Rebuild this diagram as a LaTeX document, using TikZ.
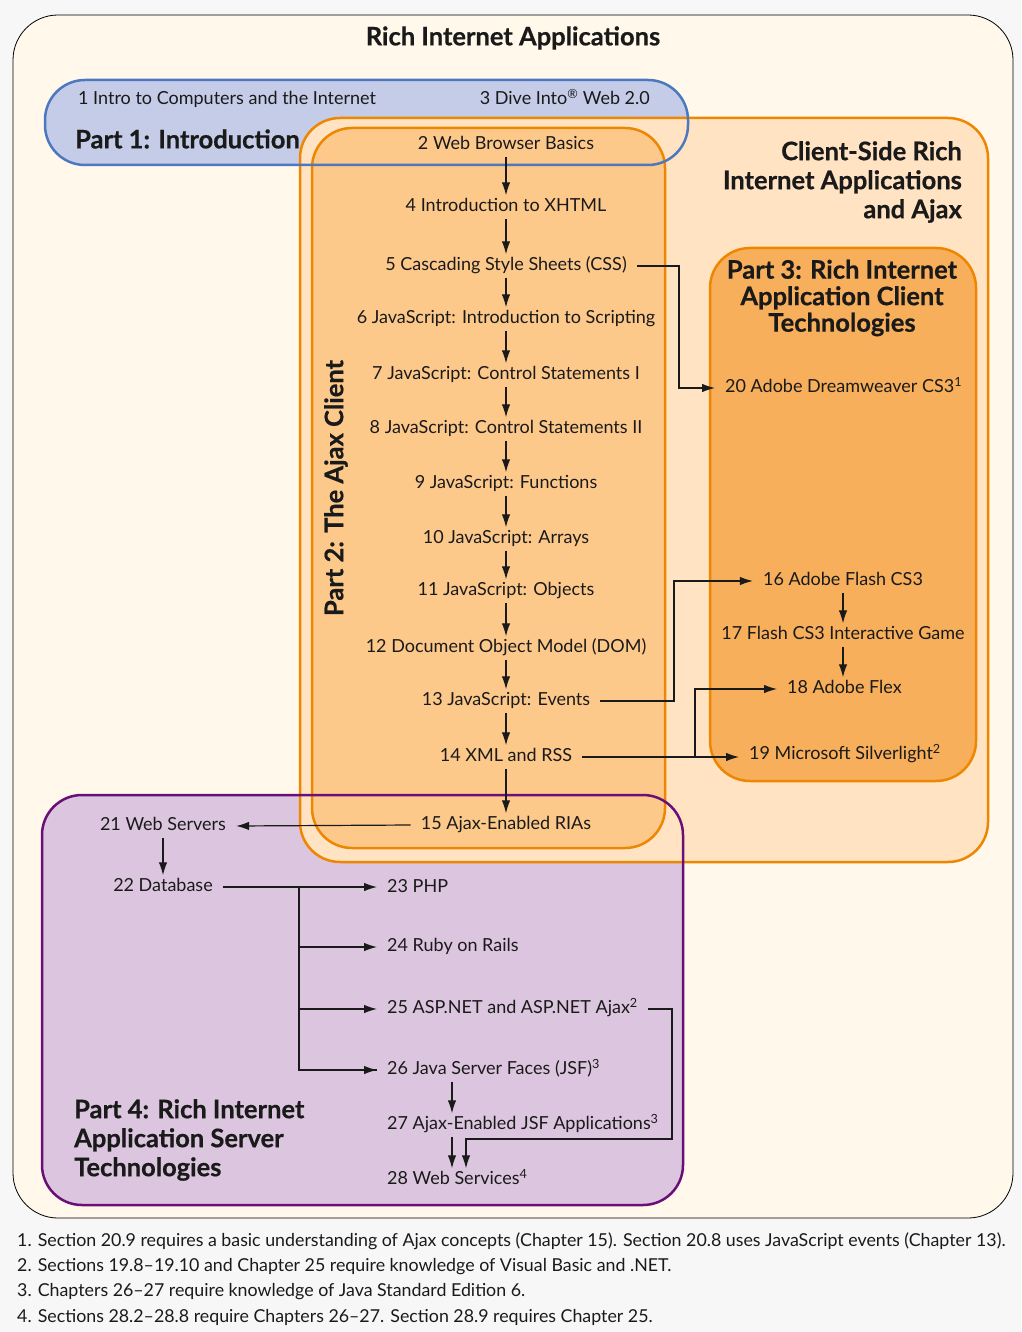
\documentclass[tikz,border=0pt]{standalone}
\usepackage{fontspec}
\setmainfont{Lato}[BoldFeatures={FakeBold=0.6}]
\usetikzlibrary{arrows.meta,calc}
\definecolor{bggray}{HTML}{F7F7F7}
\definecolor{cream}{HTML}{FFF8EB}
\definecolor{bluefill}{HTML}{C4CCE8}
\definecolor{blueline}{HTML}{4B78BE}
\definecolor{peach}{HTML}{FFE3C3}
\definecolor{ptwofill}{HTML}{FDC98B}
\definecolor{pthreefill}{HTML}{F7AF5B}
\definecolor{orangeline}{HTML}{EE8600}
\definecolor{purplefill}{HTML}{DCC5DE}
\definecolor{purpleline}{HTML}{6A0F78}
\definecolor{ink}{HTML}{1A1A1A}
\tikzset{
  txt/.style={inner xsep=10pt, inner ysep=3pt, text=ink, font=\fontsize{18}{21}\selectfont, text height=13pt, text depth=4pt},
  head/.style={inner sep=0pt, text=ink, font=\bfseries\fontsize{25.5}{29}\selectfont},
  foot/.style={inner sep=0pt, anchor=west, text=ink, font=\fontsize{17.8}{21}\selectfont},
  arr/.style={draw=ink, line width=1.2pt, -{Latex[length=13pt,width=8.5pt]}},
  ln/.style={draw=ink, line width=1.2pt},
  boxline/.style={line width=2.5pt, rounded corners=40pt},
}
\begin{document}
\begin{tikzpicture}[x=1pt,y=-1pt]
\path[use as bounding box, fill=bggray] (0,0) rectangle (1021,1332);
% outer box
\draw[fill=cream, draw=black, line width=0.8pt, rounded corners=45pt] (13,15) rectangle (1013,1218);
% fills underneath
\fill[bluefill, rounded corners=40pt] (45,80) rectangle (688,165);
\fill[purplefill, rounded corners=40pt] (42,795) rectangle (683,1205);
% orange boxes
\draw[boxline, fill=peach, draw=orangeline] (300,118) rectangle (988,862);
\draw[boxline, fill=ptwofill, draw=orangeline] (312,128) rectangle (665,848);
\draw[boxline, fill=pthreefill, draw=orangeline] (710,248) rectangle (976,781);
% borders on top
\draw[boxline, draw=blueline] (45,80) rectangle (688,165);
\draw[boxline, draw=purpleline] (42,795) rectangle (683,1205);

% headings
\node[head] (title) at (513,38) {Rich Internet Applications};
\node[head, anchor=west] (p1) at (75,139) {Part 1: Introduction};
\node[head, anchor=east, align=right] (cs) at (962,182) {Client-Side Rich\\Internet Applications\\and Ajax};
\node[head, align=center, font=\bfseries\fontsize{25.5}{26.5}\selectfont] (p3) at (842,298) {Part 3: Rich Internet\\Application Client\\Technologies};
\node[head, rotate=90] (p2) at (336,488) {Part 2: The Ajax Client};
\node[head, anchor=west, align=left] (p4) at (74,1140) {Part 4: Rich Internet\\Application Server\\Technologies};

% part 1
\node[txt, anchor=west] (n1) at (68,100) {1 Intro to Computers and the Internet};
\node[txt, anchor=east] (n3) at (660,100) {3 Dive Into\textsuperscript{®} Web 2.0};

% part 2 chain
\node[txt] (n2) at (506,145) {2 Web Browser Basics};
\node[txt] (n4) at (506,207) {4 Introduction to XHTML};
\node[txt] (n5) at (506,266) {5 Cascading Style Sheets (CSS)};
\node[txt] (n6) at (506,319) {6 JavaScript: Introduction to Scripting};
\node[txt] (n7) at (506,375) {7 JavaScript: Control Statements I};
\node[txt] (n8) at (506,429) {8 JavaScript: Control Statements II};
\node[txt] (n9) at (506,484) {9 JavaScript: Functions};
\node[txt] (n10) at (506,539) {10 JavaScript: Arrays};
\node[txt] (n11) at (506,591) {11 JavaScript: Objects};
\node[txt] (n12) at (506,648) {12 Document Object Model (DOM)};
\node[txt] (n13) at (506,701) {13 JavaScript: Events};
\node[txt] (n14) at (506,757) {14 XML and RSS};
\node[txt] (n15) at (506,825) {15 Ajax-Enabled RIAs};

% part 3
\node[txt, anchor=west] (n20) at (715,388) {20 Adobe Dreamweaver CS3\textsuperscript{1}};
\node[txt] (n16) at (843,581) {16 Adobe Flash CS3};
\node[txt] (n17) at (843,635) {17 Flash CS3 Interactive Game};
\node[txt, anchor=west] (n18) at (777,689) {18 Adobe Flex};
\node[txt, anchor=west] (n19) at (739,755) {19 Microsoft Silverlight\textsuperscript{2}};

% part 4
\node[txt] (n21) at (163,826) {21 Web Servers};
\node[txt] (n22) at (163,887) {22 Database};
\node[txt, anchor=west] (n23) at (377,888) {23 PHP};
\node[txt, anchor=west] (n24) at (377,947) {24 Ruby on Rails};
\node[txt, anchor=west] (n25) at (377,1009) {25 ASP.NET and ASP.NET Ajax\textsuperscript{2}};
\node[txt, anchor=west] (n26) at (377,1070) {26 Java Server Faces (JSF)\textsuperscript{3}};
\node[txt, anchor=west] (n27) at (377,1125) {27 Ajax-Enabled JSF Applications\textsuperscript{3}};
\node[txt, anchor=west] (n28) at (377,1180) {28 Web Services\textsuperscript{4}};

% chain arrows
\foreach \a/\b in {n2/n4,n4/n5,n5/n6,n6/n7,n7/n8,n8/n9,n9/n10,n10/n11,n11/n12,n12/n13,n13/n14,n14/n15}
  \draw[arr] (\a.south -| 506,0) -- (\b.north -| 506,0);
\draw[arr] (n16) -- (n17);
\draw[arr] (n17.south -| 843,0) -- (n18.north -| 843,0);
\draw[arr] (n21) -- (n22);
\draw[arr] (n26.south -| 452,0) -- (n27.north -| 452,0);
\draw[arr] (n27.south -| 452,0) -- (n28.north -| 452,0);

% elbow connectors
\coordinate (k5) at (679,0);
\draw[arr] (n5.east) -- (n5.east -| k5) |- (n20.west);
\coordinate (k13) at (674,0);
\draw[arr] (n13.east) -- (n13.east -| k13) |- (n16.west);
\coordinate (k14) at (695,0);
\draw[arr] (n14.east) -- (n19.west |- n14.east);
\draw[arr] (n14.east -| k14) |- (n18.west);
\draw[arr] (n15.west) -- (n21.east);
\coordinate (k22) at (299,0);
\draw[arr] (n22.east) -- (n23.west |- n22.east);
\draw[ln] (n22.east -| k22) |- (n26.west);
\draw[arr] (k22 |- n24.west) -- (n24.west);
\draw[arr] (k22 |- n25.west) -- (n25.west);
\draw[arr] (k22 |- n26.west) -- (n26.west);
\coordinate (k25) at (672,0);
\coordinate (k28) at (466,1139);
\draw[arr] (n25.east) -- (n25.east -| k25) |- (k28) -- (n28.north -| k28);

% footnotes
\node[foot] (f1) at (17,1241) {1. Section 20.9 requires a basic understanding of Ajax concepts (Chapter 15). Section 20.8 uses JavaScript events (Chapter 13).};
\node[foot] (f2) at (17,1267) {2. Sections 19.8–19.10 and Chapter 25 require knowledge of Visual Basic and .NET.};
\node[foot] (f3) at (17,1292) {3. Chapters 26–27 require knowledge of Java Standard Edition 6.};
\node[foot] (f4) at (17,1317) {4. Sections 28.2–28.8 require Chapters 26–27. Section 28.9 requires Chapter 25.};
\end{tikzpicture}
\end{document}
